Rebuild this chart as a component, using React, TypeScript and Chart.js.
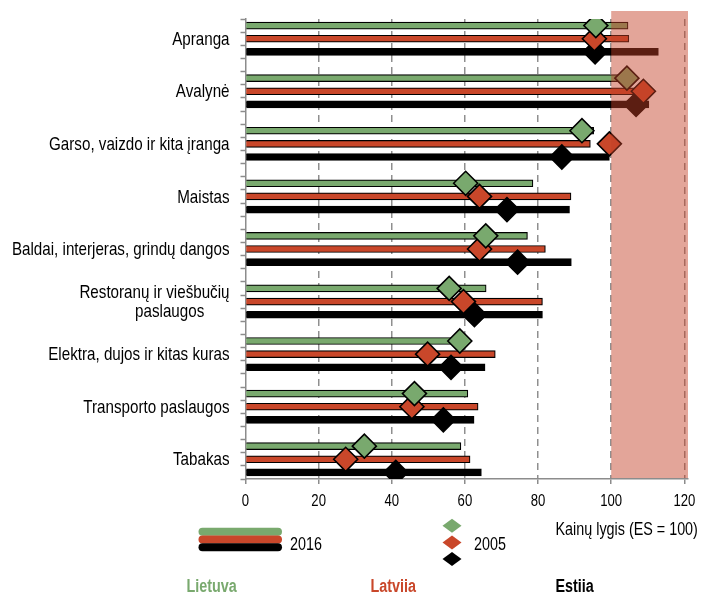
import React, { useEffect, useRef } from "react";
import { Chart, registerables } from "chart.js";

Chart.register(...registerables);

// Product groups (top to bottom); multi-line labels are arrays
const categories: (string | string[])[] = [
  "Apranga",
  "Avalynė",
  "Garso, vaizdo ir kita įranga",
  "Maistas",
  "Baldai, interjeras, grindų dangos",
  ["Restoranų ir viešbučių", "paslaugos      "],
  "Elektra, dujos ir kitas kuras",
  "Transporto paslaugos",
  "Tabakas",
];

const countries = ["Lietuva", "Latvija", "Estija"];

// Price level, EU = 100 — bars: 2016
const lt2016 = [104.6, 105, 95.2, 78.6, 77.1, 65.8, 58.5, 60.8, 58.9];
const lv2016 = [104.8, 107, 94.3, 89, 82, 81.2, 68.3, 63.6, 61.4];
const ee2016 = [112.9, 110.3, 99.5, 88.6, 89.1, 81.2, 65.5, 62.5, 64.5];

// Price level, EU = 100 — diamonds: 2005
const lt2005 = [95.8, 104.3, 92, 60.2, 65.7, 55.7, 58.6, 46.2, 32.5];
const lv2005 = [95.4, 108.8, 99.5, 64, 64, 59.6, 49.8, 45.5, 27.4];
const ee2005 = [95.6, 106.8, 86.5, 71.5, 74.4, 62.6, 56.2, 54.1, 41.1];

const xTicks = [0, 20, 40, 60, 80, 100, 120];
const euLevel = 100;
const axisTitle = "Kainų lygis (ES = 100)";
const years = ["2016", "2005"];

const GREEN = "#79a96e";
const RED = "#c9472a";
const BLACK = "#000000";
const GREY = "#8c8c8c";
const FONT = "'Liberation Sans', Arial, sans-serif";
const NARROW = 0.82; // horizontal squeeze to get a narrow face

// each group uses 4 rows: three bars and a spacer
const ROWS_PER_GROUP = 4;
const rowOf = (group: number, series: number) => group * ROWS_PER_GROUP + series + 0.5;
const labelRow = (group: number) => group * ROWS_PER_GROUP + 1.5;
const lastRow = (categories.length - 1) * ROWS_PER_GROUP + 3;

function narrowText(
  ctx: CanvasRenderingContext2D,
  text: string,
  x: number,
  y: number,
  font: string,
  color: string,
  align: CanvasTextAlign,
  baseline: CanvasTextBaseline
) {
  ctx.save();
  ctx.font = font;
  ctx.fillStyle = color;
  ctx.textAlign = align;
  ctx.textBaseline = baseline;
  ctx.translate(x, y);
  ctx.scale(NARROW, 1);
  ctx.fillText(text, 0, 0);
  ctx.restore();
}

const shadePlugin = {
  id: "euShade",
  afterDatasetsDraw(chart: any) {
    const { ctx, chartArea, scales } = chart;
    const x0 = scales.x.getPixelForValue(euLevel);
    ctx.save();
    ctx.fillStyle = "rgba(196, 64, 38, 0.47)";
    ctx.fillRect(x0, chartArea.top - 8, chartArea.right - x0, chartArea.bottom - chartArea.top + 7);
    ctx.restore();
  },
};

const labelsPlugin = {
  id: "axisLabels",
  afterDraw(chart: any) {
    const ctx = chart.ctx as CanvasRenderingContext2D;
    const { chartArea, scales } = chart;
    // category labels
    const catFont = `18.5px ${FONT}`;
    const lineH = 19;
    categories.forEach((c, i) => {
      const lines = Array.isArray(c) ? c : [c];
      const yc = scales.y.getPixelForValue(labelRow(i));
      const y0 = yc - ((lines.length - 1) * lineH) / 2;
      lines.forEach((t, k) => {
        narrowText(ctx, t, chartArea.left - 16, y0 + k * lineH + 1, catFont, "#000", "right", "middle");
      });
    });
    // x tick labels
    xTicks.forEach((v) => {
      narrowText(ctx, String(v), scales.x.getPixelForValue(v), chartArea.bottom + 22.5, `16px ${FONT}`, "#000", "center", "middle");
    });
  },
};

const legendPlugin = {
  id: "customLegend",
  afterDraw(chart: any) {
    const ctx = chart.ctx as CanvasRenderingContext2D;
    ctx.save();
    // 2016 bar swatches
    ctx.lineCap = "round";
    ctx.lineWidth = 8;
    const swatches: [string, number][] = [
      [GREEN, 531.8],
      [RED, 539.6],
      [BLACK, 547.2],
    ];
    for (const [c, y] of swatches) {
      ctx.strokeStyle = c;
      ctx.beginPath();
      ctx.moveTo(202.5, y);
      ctx.lineTo(278, y);
      ctx.stroke();
    }
    // 2005 diamond swatches
    const diamonds: [string, number][] = [
      [GREEN, 525.8],
      [RED, 542.4],
      [BLACK, 559],
    ];
    for (const [c, y] of diamonds) {
      ctx.fillStyle = c;
      ctx.beginPath();
      ctx.moveTo(452 - 9.5, y);
      ctx.lineTo(452, y - 7);
      ctx.lineTo(452 + 9.5, y);
      ctx.lineTo(452, y + 7);
      ctx.closePath();
      ctx.fill();
    }
    ctx.restore();
    const f = `17.5px ${FONT}`;
    narrowText(ctx, years[0], 290, 545, f, "#000", "left", "middle");
    narrowText(ctx, years[1], 474, 545, f, "#000", "left", "middle");
    narrowText(ctx, axisTitle, 555.5, 530.5, f, "#000", "left", "middle");
    const fb = `bold 17.5px ${FONT}`;
    narrowText(ctx, countries[0], 186.5, 592, fb, GREEN, "left", "alphabetic");
    narrowText(ctx, countries[1], 370.5, 592, fb, RED, "left", "alphabetic");
    narrowText(ctx, countries[2], 555.5, 592, fb, BLACK, "left", "alphabetic");
  },
};

function barSet(label: string, values: number[], series: number, color: string) {
  return {
    type: "bar" as const,
    label,
    indexAxis: "y" as const,
    data: values.map((v, i) => ({ x: v, y: rowOf(i, series) })),
    backgroundColor: color,
    borderColor: "#000",
    borderWidth: 1.2,
    borderSkipped: "start",
    barThickness: 7,
    grouped: false,
    order: 10,
  };
}

function pointSet(label: string, values: number[], series: number, color: string, order: number) {
  return {
    type: "scatter" as const,
    label,
    data: values.map((v, i) => ({ x: v, y: rowOf(i, series) })),
    pointStyle: "rectRot",
    pointRadius: 12,
    pointBackgroundColor: color,
    pointBorderColor: "#000",
    pointBorderWidth: 1.6,
    order,
  };
}

export default function App() {
  const ref = useRef<HTMLCanvasElement | null>(null);

  useEffect(() => {
    if (!ref.current) return;
    const yTickValues: number[] = [];
    for (let r = 0; r <= lastRow; r++) yTickValues.push(r);

    const chart = new Chart(ref.current, {
      type: "bar",
      data: {
        datasets: [
          barSet(countries[0], lt2016, 0, GREEN),
          barSet(countries[1], lv2016, 1, RED),
          barSet(countries[2], ee2016, 2, BLACK),
          pointSet(countries[0], lt2005, 0, GREEN, 1),
          pointSet(countries[1], lv2005, 1, RED, 2),
          pointSet(countries[2], ee2005, 2, BLACK, 3),
        ] as any,
      },
      options: {
        animation: false,
        responsive: false,
        events: [],
        layout: { padding: { left: 0, top: 19, right: 36, bottom: 0 } },
        plugins: { legend: { display: false }, tooltip: { enabled: false } },
        scales: {
          x: {
            type: "linear",
            position: "bottom",
            offset: false,
            min: 0,
            max: 121,
            afterBuildTicks: (scale: any) => {
              scale.ticks = xTicks.map((v) => ({ value: v }));
            },
            afterFit: (scale: any) => {
              scale.height = 113;
            },
            ticks: { display: false, autoSkip: false },
            grid: {
              offset: false,
              color: (c: any) => (c.tick && c.tick.value === 0 ? "rgba(0,0,0,0)" : "#8f8f8f"),
              lineWidth: 1.5,
              tickColor: GREY,
              tickLength: 5,
              tickWidth: 1.5,
            },
            border: { display: true, color: GREY, width: 1.5, dash: [7, 5] },
          },
          y: {
            type: "linear",
            position: "left",
            offset: false,
            reverse: true,
            min: 0,
            max: lastRow,
            afterBuildTicks: (scale: any) => {
              scale.ticks = yTickValues.map((v) => ({ value: v }));
            },
            afterFit: (scale: any) => {
              scale.width = 245.5;
            },
            ticks: { display: false, autoSkip: false },
            grid: {
              offset: false,
              drawOnChartArea: false,
              tickLength: 5,
              tickWidth: 1.5,
              tickColor: GREY,
            },
            border: { display: true, color: GREY, width: 1.5 },
          },
        },
      },
      plugins: [shadePlugin, labelsPlugin, legendPlugin],
    });
    return () => chart.destroy();
  }, []);

  return (
    <div style={{ position: "absolute", left: 0, top: 0, width: 724, height: 592, background: "#fff" }}>
      <canvas ref={ref} width={724} height={592} style={{ display: "block" }} />
    </div>
  );
}
